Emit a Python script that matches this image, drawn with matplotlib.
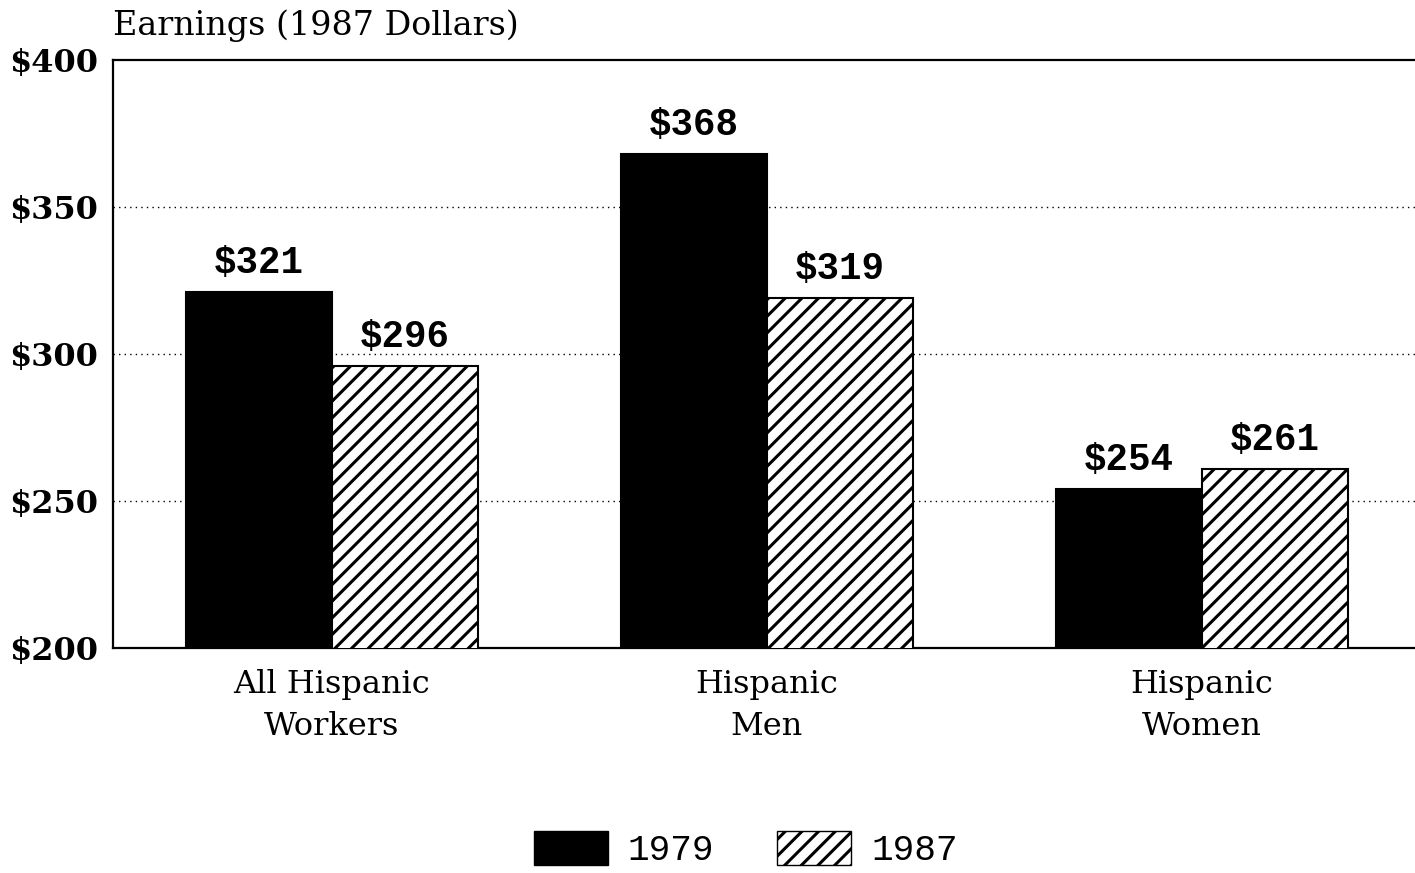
import numpy as np
import matplotlib
matplotlib.use("Agg")
import matplotlib.pyplot as plt
from matplotlib.patches import Patch

categories = ["All Hispanic\nWorkers", "Hispanic\nMen", "Hispanic\nWomen"]
earnings_1979 = [321, 368, 254]
earnings_1987 = [296, 319, 261]
years = ["1979", "1987"]
y_ticks = [200, 250, 300, 350, 400]

plt.rcParams['hatch.linewidth'] = 2.2

fig = plt.figure(figsize=(14.15, 8.73), dpi=100)
ax = fig.add_axes([0.0799, 0.2577, 0.9201, 0.6735])

x = np.arange(len(categories))
width = 0.336

bars_79 = ax.bar(x - width / 2, earnings_1979, width,
                 color='black', edgecolor='black', linewidth=1.5, zorder=3)
bars_87 = ax.bar(x + width / 2, earnings_1987, width,
                 color='white', edgecolor='black', hatch='//', linewidth=1.5, zorder=3)

# value labels above each bar
for bars in (bars_79, bars_87):
    for b in bars:
        h = b.get_height()
        ax.annotate(f"${h:.0f}", (b.get_x() + b.get_width() / 2, h),
                    xytext=(0, 8), textcoords='offset points',
                    ha='center', va='bottom', family='Liberation Mono',
                    fontweight='bold', fontsize=27)

ax.set_ylim(200, 400)
ax.set_xlim(-0.503, 2.49)
ax.set_yticks(y_ticks)
ax.set_yticklabels([f"${v}" for v in y_ticks], family='DejaVu Serif',
                   fontweight='bold', fontsize=23)
ax.set_xticks(x)
ax.set_xticklabels(categories, family='DejaVu Serif', fontsize=23,
                   linespacing=1.45)
ax.tick_params(axis='y', length=0, pad=11)
ax.tick_params(axis='x', length=0, pad=15)

# sparse dotted gridlines
for v in y_ticks[1:-1]:
    ax.axhline(v, color='black', linewidth=1.0, linestyle=(0, (1, 3)), zorder=1)

ax.spines['right'].set_visible(False)
for s in ('left', 'top', 'bottom'):
    ax.spines[s].set_linewidth(1.6)

fig.text(0.0799, 0.952, "Earnings (1987 Dollars)", family='DejaVu Serif',
         fontsize=24, ha='left', va='bottom')

handles = [Patch(facecolor='black', edgecolor='black'),
           Patch(facecolor='white', edgecolor='black', hatch='//')]
fig.legend(handles, years, loc='center', bbox_to_anchor=(0.527, 0.027),
           ncol=2, frameon=False, borderpad=0,
           prop={'family': 'Liberation Mono', 'size': 26},
           handlelength=2.05, handleheight=1.08, handletextpad=0.55,
           columnspacing=1.75)

fig.savefig("out.png", dpi=100)
